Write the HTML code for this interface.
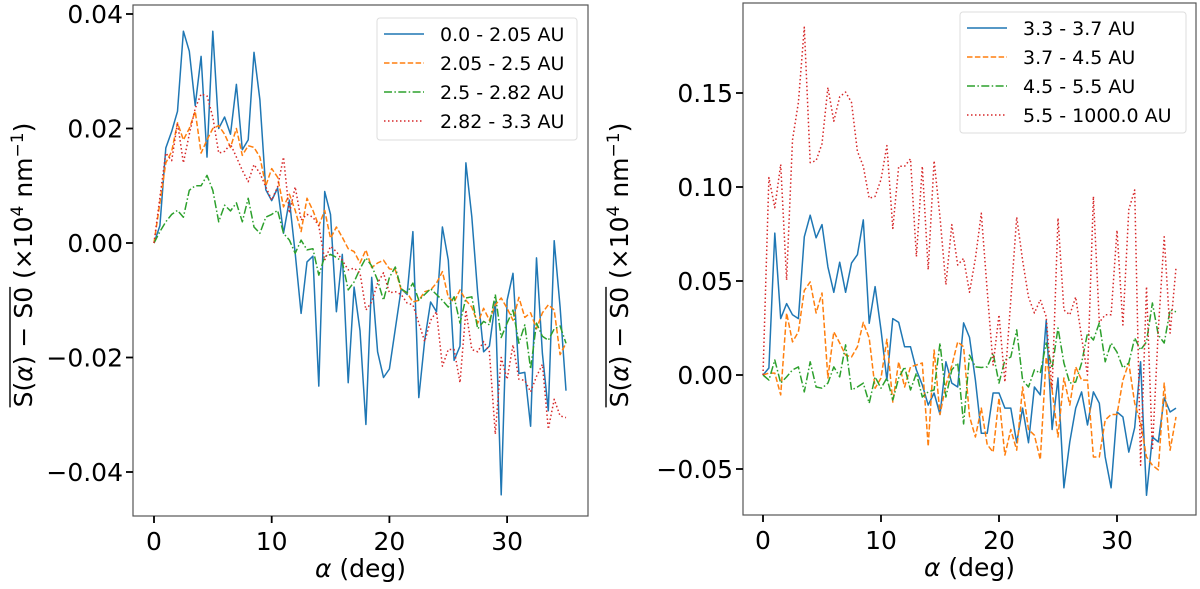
<!DOCTYPE html>
<html><head><meta charset="utf-8"><style>
html,body{margin:0;padding:0;background:#fff;}
svg{display:block;font-family:"DejaVu Sans","Liberation Sans",sans-serif;}
</style></head><body>
<svg id="fig" width="1200" height="589" viewBox="0 0 1200 589"></svg>
<script>
// Left panel data (values in units of 0.01), alpha step 0.5 deg
const alphaStep = 0.5;
const leftLabels = ["0.0 - 2.05 AU","2.05 - 2.5 AU","2.5 - 2.82 AU","2.82 - 3.3 AU"];
const leftBlue = [0,0.3,1.66,1.95,2.3,3.7,3.35,2.4,3.26,1.5,3.7,2.0,2.2,1.9,2.77,1.63,1.8,3.33,2.5,0.93,0.74,0.96,0.17,0.75,-0.18,-1.23,-0.33,-0.23,-2.5,0.9,0.5,-1.2,-0.2,-2.44,-0.77,-1.53,-3.17,-0.6,-1.9,-2.35,-2.2,-1.5,-0.8,-0.9,0.2,-2.7,-1.7,-1.03,-1.2,0.28,-0.3,-2.05,-1.8,1.4,0.46,-0.88,-1.9,-1.8,-1.03,-4.4,-1.0,-0.53,-2.28,-2.26,-3.2,-0.26,-1.93,-2.93,0.04,-1.12,-2.58];
const leftOrange = [0,0.7,1.4,1.6,2.1,1.8,2.0,2.3,1.57,1.8,2.0,2.05,1.9,1.67,2.0,1.53,1.7,1.67,1.5,1.0,1.3,1.15,0.63,0.85,0.57,0.2,0.78,0.57,0.3,0.57,0.08,0.28,0.1,-0.1,-0.15,-0.35,-0.12,-0.43,-0.35,-0.3,-0.45,-0.47,-0.82,-0.87,-1.03,-1.0,-0.85,-0.82,-0.7,-0.5,-0.95,-1.03,-0.82,-1.0,-1.12,-1.4,-1.14,-1.35,-1.08,-0.96,-1.14,-1.35,-0.95,-1.3,-1.22,-1.5,-1.22,-1.08,-1.17,-1.95,-1.75];
const leftGreen = [0,0.2,0.37,0.5,0.57,0.45,0.92,1.0,1.0,1.18,0.92,0.37,0.66,0.56,0.7,0.37,0.78,0.28,0.17,0.45,0.5,0.57,0.17,0.05,-0.18,0.05,-0.12,-0.1,-0.56,-0.24,-0.2,-0.25,-0.33,-0.82,-0.68,-0.45,-0.26,-0.4,-0.65,-1.0,-0.6,-0.42,-0.8,-0.87,-0.7,-1.0,-0.9,-0.8,-0.9,-1.0,-1.12,-0.94,-1.4,-0.96,-0.94,-1.5,-1.37,-1.43,-0.9,-1.65,-1.4,-1.17,-1.75,-1.43,-2.2,-1.4,-1.63,-1.7,-1.5,-1.45,-1.75];
const leftRed = [0,0.8,1.57,1.44,2.1,1.4,1.9,2.35,2.6,2.57,2.2,1.57,1.6,1.73,1.5,1.27,1.07,1.37,1.22,0.98,0.75,0.98,1.5,0.52,0.98,0.4,0.5,0.45,0.3,-0.3,-0.06,-0.15,-0.3,-0.47,-0.44,-0.52,-1.17,-1.03,-0.7,-0.52,-0.87,-0.85,-0.9,-1.05,-1.08,-1.4,-1.72,-1.35,-1.2,-2.15,-1.86,-1.86,-2.44,-1.17,-1.86,-1.9,-1.72,-1.9,-3.34,-2.0,-2.38,-1.78,-2.38,-2.4,-2.6,-2.33,-2.12,-3.25,-2.73,-3.02,-3.05];
const leftYTicks = [-0.04,-0.02,0.00,0.02,0.04];
const leftYTickLabels = ["\u22120.04","\u22120.02","0.00","0.02","0.04"];
// Right panel data (values in units of 0.01)
const rightLabels = ["3.3 - 3.7 AU","3.7 - 4.5 AU","4.5 - 5.5 AU","5.5 - 1000.0 AU"];
const rightBlue = [0,0.37,7.55,3.0,3.8,3.2,3.0,7.35,8.5,7.3,8.0,5.75,4.4,6.0,4.4,5.95,6.4,8.25,2.75,4.7,2.4,-0.27,3.0,2.8,1.5,1.5,0.27,-0.53,-1.6,-0.96,-2.1,0.7,-0.43,-0.64,2.77,2.0,-0.27,-3.1,-3.1,-0.96,-0.96,-1.76,-1.76,-3.6,-1.76,-3.6,-0.64,-1.06,2.9,-2.9,-0.16,-6.0,-3.56,-1.76,-0.9,-2.66,-0.9,-1.5,-4.36,-6.0,-1.97,-2.23,-4.1,-2.8,0.7,-6.4,-3.3,-3.56,-1.22,-1.97,-1.76];
const rightOrange = [0,0.1,0.1,-1.06,3.3,1.76,2.3,4.5,4.95,3.3,4.36,-0.16,2.3,1.7,1.06,0.96,1.5,2.8,1.97,-0.7,-0.16,1.9,-1.44,0.7,-0.64,0.43,0.53,0.64,-3.8,1.33,-2.1,-0.53,0.5,1.76,1.5,-2.2,-3.3,-1.76,-3.7,-4.1,-1.22,-4.26,-2.9,-4.0,-0.64,-2.9,-3.2,-4.5,0.96,-0.8,-3.3,-0.16,-1.6,0.43,-0.27,-0.27,-4.36,-4.36,-2.4,-2.1,-2.1,-0.27,0.64,-1.5,-2.55,-4.36,-4.8,-5.05,-0.43,-4.0,-2.23];
const rightGreen = [0,-0.27,0.8,-0.43,-0.1,0.27,0.43,-0.9,0.7,-0.64,-0.7,-0.43,0.43,-0.1,1.6,-0.8,-0.64,-0.43,-1.5,-0.1,-0.7,-0.16,-1.33,-0.16,0.43,-0.8,0.1,-1.17,-0.9,-0.8,1.7,-1.17,0.27,0.64,-2.6,1.06,0.43,0.4,0.43,1.17,-0.43,0.8,0.96,2.4,-0.27,-0.64,0.27,0.1,1.7,0.37,2.5,0.64,-0.43,-0.37,0.64,2.23,1.86,2.77,0.7,1.7,1.22,0.37,0.64,1.97,1.33,1.76,3.83,2.13,1.7,3.46,3.36];
const rightRed = [0,10.5,8.9,11.2,5.05,12.5,14.5,18.5,11.3,11.4,12.3,15.3,13.5,14.8,15.05,14.5,11.9,11.1,9.4,9.5,10.4,12.2,7.8,11.1,11.1,11.5,6.3,11.1,5.6,11.4,8.4,4.8,8.0,5.85,6.2,4.4,6.2,8.6,4.5,0.53,3.2,-0.37,4.0,8.4,6.1,4.15,3.3,4.0,3.1,-0.8,8.35,3.46,3.2,4.15,2.0,0,9.5,2.8,3.2,3.2,7.7,2.66,8.8,9.84,-4.8,4.7,-4.0,2.4,7.35,2.23,5.7];
const rightYTicks = [-0.05,0.00,0.05,0.10,0.15];
const rightYTickLabels = ["\u22120.05","0.00","0.05","0.10","0.15"];
const xTicks = [0,10,20,30];

const NS="http://www.w3.org/2000/svg";
const svg=document.getElementById('fig');
function mk(tag,attrs,parent){const e=document.createElementNS(NS,tag);for(const k in attrs)e.setAttribute(k,attrs[k]);(parent||svg).appendChild(e);return e;}

const colors=["#1f77b4","#ff7f0e","#2ca02c","#d62728"];
const dashes=["none","5.5,2.4","8,2.4,1.5,2.4","1.5,2.5"];
const FS=25;

function panel(cfg){
  const g=mk('g',{});
  
  
  const xs=a=>cfg.x0+a*cfg.xs;
  const ys=v=>cfg.y0-v*cfg.ys;
  cfg.series.forEach((arr,si)=>{
    const pts=arr.map((v,i)=>xs(i*alphaStep).toFixed(1)+","+ys(v/100).toFixed(1)).join(" ");
    const pl=mk('polyline',{points:pts,fill:'none',stroke:colors[si],'stroke-width':1.5,'stroke-dasharray':dashes[si],'stroke-linejoin':'round'},g);
    
    
  });
  const fr=mk('rect',{x:cfg.L,y:cfg.T,width:cfg.R-cfg.L,height:cfg.B-cfg.T,fill:'none',stroke:'#555','stroke-width':1.2},g);
  
  
  xTicks.forEach(t=>{
    const x=xs(t);
    mk('line',{x1:x,x2:x,y1:cfg.B,y2:cfg.B+7,stroke:'#000','stroke-width':1.8},g);
    const tx=mk('text',{x:x,y:cfg.B+34,'font-size':FS,'text-anchor':'middle',fill:'#000'},g);
    tx.textContent=t;
    
    
  });
  cfg.yTicks.forEach((t,i)=>{
    const y=ys(t);
    mk('line',{x1:cfg.L-7,x2:cfg.L,y1:y,y2:y,stroke:'#000','stroke-width':1.8},g);
    const tx=mk('text',{x:cfg.L-10,y:y+9,'font-size':FS,'text-anchor':'end',fill:'#000'},g);
    tx.textContent=cfg.yLabels[i];
    
    
  });
  const xt=mk('text',{x:(cfg.L+cfg.R)/2,y:cfg.B+61,'font-size':FS,'text-anchor':'middle',fill:'#000'},g);
  xt.innerHTML='<tspan font-style="italic">\u03b1</tspan> (deg)';
  
  
  const yg=mk('g',{transform:`translate(${cfg.ylx},${cfg.yly}) rotate(-90)`},g);
  
  
  const yt=mk('text',{x:0,y:0,'font-size':FS,'text-anchor':'middle',fill:'#000'},yg);
  yt.innerHTML='S(<tspan font-style="italic">\u03b1</tspan>) \u2212 S0 (\u00d710<tspan dy="-9" font-size="17">4</tspan><tspan dy="9"> nm</tspan><tspan dy="-9" font-size="17">\u22121</tspan><tspan dy="9">)</tspan>';
  let total=330, sub=150;
  try{ total=yt.getComputedTextLength(); sub=yt.getSubStringLength(0,9); }catch(e){}
  const sx=-total/2;
  mk('line',{x1:sx,x2:sx+sub,y1:-22,y2:-22,stroke:'#000','stroke-width':1.4},yg);
  const lg=mk('g',{},g);
  
  
  mk('rect',{x:cfg.lgx,y:cfg.lgy,width:cfg.lgw,height:cfg.lgh,rx:3,fill:'#fff','fill-opacity':0.8,stroke:'#ddd','stroke-width':1},lg);
  cfg.labels.forEach((lab,i)=>{
    const y=cfg.lgy+16+i*29;
    const le=mk('g',{},lg);
    
    
    mk('line',{x1:cfg.lgx+7,x2:cfg.lgx+47,y1:y,y2:y,stroke:colors[i],'stroke-width':1.5,'stroke-dasharray':dashes[i]},le);
    const t=mk('text',{x:cfg.lgx+63,y:y+7,'font-size':19,fill:'#000'},le);
    t.textContent=lab;
  });
}

panel({name:'left-panel',L:133,R:588,T:5,B:516,x0:154,xs:11.77,y0:243,ys:5725,
  series:[leftBlue,leftOrange,leftGreen,leftRed],yTicks:leftYTicks,yLabels:leftYTickLabels,
  labels:leftLabels,lgx:377,lgy:18,lgw:200,lgh:122,ylx:32,yly:265});
panel({name:'right-panel',L:743,R:1196,T:3,B:515,x0:763,xs:11.8,y0:375,ys:1880,
  series:[rightBlue,rightOrange,rightGreen,rightRed],yTicks:rightYTicks,yLabels:rightYTickLabels,
  labels:rightLabels,lgx:960,lgy:12,lgw:226,lgh:121,ylx:628,yly:265});
</script>
</body></html>
